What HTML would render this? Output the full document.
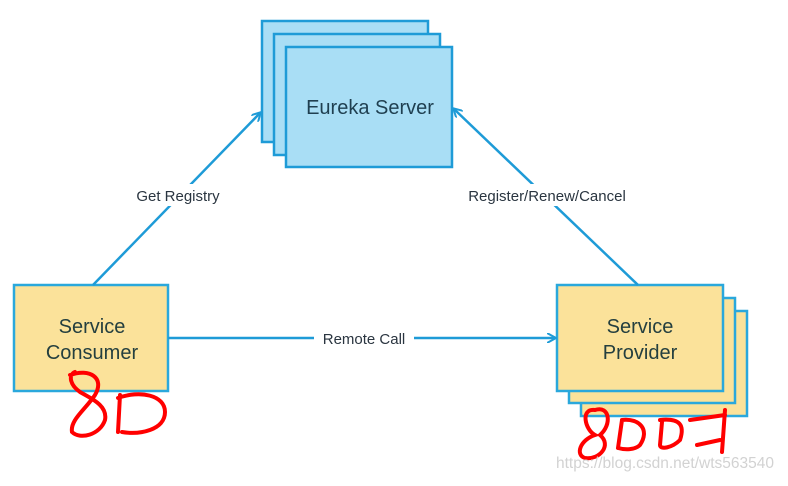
<!DOCTYPE html>
<html><head><meta charset="utf-8"><style>
body{margin:0;width:788px;height:481px;background:#fff;overflow:hidden;font-family:"Liberation Sans",sans-serif}
</style></head><body>
<svg width="788" height="481" viewBox="0 0 788 481" xmlns="http://www.w3.org/2000/svg">
<defs><marker id="a" markerWidth="10" markerHeight="10" refX="8" refY="5" orient="auto" markerUnits="userSpaceOnUse"><path d="M0,0 L9,5 L0,10" fill="none" stroke="#1e9bd7" stroke-width="2"/></marker></defs>
<g stroke="#1e9bd7" stroke-width="2.5" fill="#a9def5">
<rect x="262" y="21" width="166" height="121"/>
<rect x="274" y="34" width="166" height="121"/>
<rect x="286" y="47" width="166" height="120"/>
</g>
<text x="370" y="114" font-size="20" fill="#1f3f50" text-anchor="middle">Eureka Server</text>
<g stroke="#2aa8dc" stroke-width="2.5" fill="#fbe29a">
<rect x="581" y="311" width="166" height="105"/>
<rect x="569" y="298" width="166" height="105"/>
<rect x="557" y="285" width="166" height="106"/>
<rect x="14" y="285" width="154" height="106"/>
</g>
<g font-size="20" fill="#243f3f" text-anchor="middle">
<text x="640" y="333">Service</text>
<text x="640" y="359">Provider</text>
<text x="92" y="333">Service</text>
<text x="92" y="359">Consumer</text>
</g>
<g stroke="#1e9bd7" stroke-width="2.5" fill="none" marker-end="url(#a)">
<line x1="93" y1="285" x2="260" y2="113"/>
<line x1="638" y1="285" x2="454" y2="109"/>
<line x1="168" y1="338" x2="555" y2="338"/>
</g>
<g font-size="15" fill="#2a3540" text-anchor="middle">
<rect x="128" y="184" width="100" height="22" fill="#fff"/>
<text x="178" y="201">Get Registry</text>
<rect x="456" y="184" width="182" height="22" fill="#fff"/>
<text x="547" y="201">Register/Renew/Cancel</text>
<rect x="314" y="327" width="100" height="20" fill="#fff"/>
<text x="364" y="344">Remote Call</text>
</g>
<g stroke="#f00" stroke-width="4" fill="none" stroke-linecap="round">
<path d="M70,375 C90,368 105,378 95,395 C85,410 70,420 72,432 C80,440 100,435 105,420 C108,405 90,398 80,392 C70,385 68,375 75,372"/>
<path d="M120,395 L118,432 M118,398 C140,390 165,395 165,412 C165,430 140,435 122,432"/>
<path d="M595,410 C580,408 585,430 595,435 C580,440 575,455 585,458 C600,460 612,445 600,435 C612,425 610,405 595,410"/>
<path d="M622,420 L618,448 M622,420 C640,418 650,430 640,445 C635,450 625,450 618,448"/>
<path d="M660,420 C680,418 685,425 680,440 C672,448 660,450 660,445 L662,422"/>
<path d="M690,420 L725,415 M697,445 L720,440"/>
<path d="M725,410 L722,452"/>
</g>
<text x="556" y="468" font-size="15.5" fill="#d2d2d2">https://blog.csdn.net/wts563540</text>
</svg>
</body></html>
